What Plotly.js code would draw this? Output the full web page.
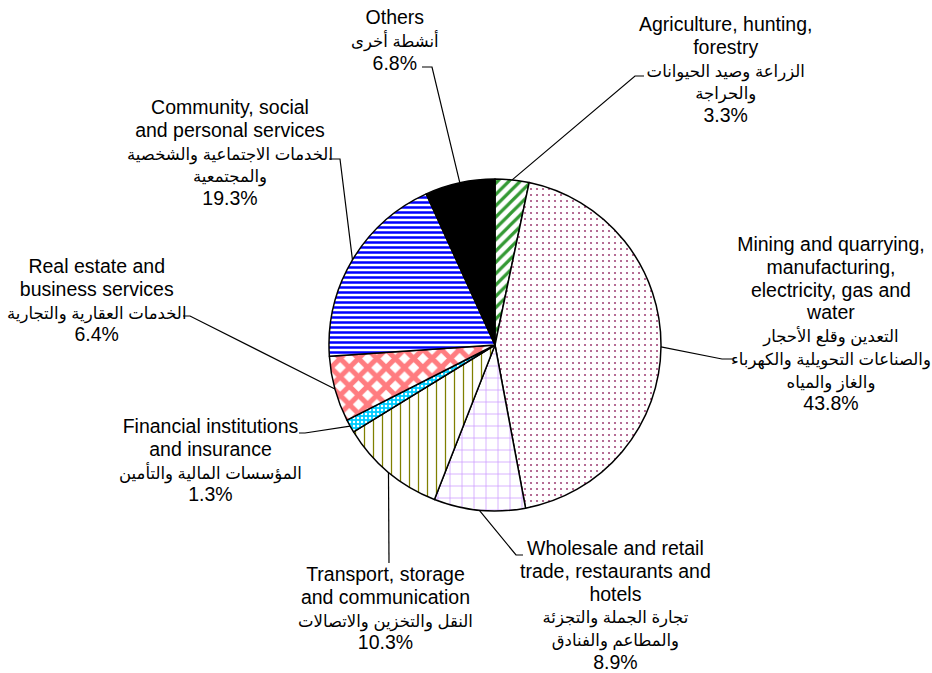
<!DOCTYPE html>
<html>
<head>
<meta charset="utf-8">
<script src="https://cdn.plot.ly/plotly-3.0.1.min.js"></script>
<style>
  html, body { margin: 0; padding: 0; background: #fff; }
  #chart { width: 932px; height: 673px; }
</style>
</head>
<body>
<div id="chart"></div>
<script>
// sectors, clockwise from 12 o'clock
var sectorsEn = ['Agriculture, hunting,<br>forestry',
                 'Mining and quarrying,<br>manufacturing,<br>electricity, gas and<br>water',
                 'Wholesale and retail<br>trade, restaurants and<br>hotels',
                 'Transport, storage<br>and communication',
                 'Financial institutions<br>and insurance',
                 'Real estate and<br>business services',
                 'Community, social<br>and personal services',
                 'Others'];
var sectorsAr = ['الزراعة وصيد الحيوانات<br>والحراجة',
                 'التعدين وقلع الأحجار<br>والصناعات التحويلية والكهرباء<br>والغاز والمياه',
                 'تجارة الجملة والتجزئة<br>والمطاعم والفنادق',
                 'النقل والتخزين والاتصالات',
                 'المؤسسات المالية والتأمين',
                 'الخدمات العقارية والتجارية',
                 'الخدمات الاجتماعية والشخصية<br>والمجتمعية',
                 'أنشطة أخرى'];
var shares = [3.3, 43.8, 8.9, 10.3, 1.3, 6.4, 19.3, 6.8];

// look of each slice
var fillCol = ['#ffffff', '#ffffff', '#ffffff', '#ffffff', '#00ccff', '#ffffff', '#ffffff', '#000000'];
var patCol  = ['#339933', '#a3487a', '#cc99ff', '#808000', '#ffffff', '#ff7c80', '#0000ff', '#000000'];
var patShape = ['/', '.', '+', '|', '.', 'x', '-', ''];
var patSize  = [8, 6, 12, 9, 4, 13, 5, 8];
var patSolid = [0.4, 0.1, 0.12, 0.14, 0.3, 0.62, 0.5, 0.3];

// label placement (pixels): centre of text block, then elbow + end of leader
var W = 932, H = 673;
var cx = 495, cy = 345, R = 166;
var labX = [725, 831, 615, 385, 210, 97, 230, 395];
var labY = [70, 323, 605, 608, 460, 300, 153, 40];
var bend = [[635,76],[722,359],[516,555],[389,563],[305,433],[190,316],[340,159],[432,67]];
var tail = [[644,76],[733,359],[523,555],[389,563],[299,433],[183,316],[329,159],[422,67]];

var FONT = 'Arial, "Liberation Sans", "DejaVu Sans", sans-serif';

function lines(txt, size) {
  return txt.split('<br>').map(function (s) {
    return '<span style="font-size:' + size + 'px">' + s + '</span>';
  }).join('<br>');
}

var data = [{
  type: 'pie',
  values: shares,
  labels: sectorsEn,
  sort: false,
  direction: 'clockwise',
  rotation: 0,
  textinfo: 'none',
  textposition: 'none',
  hoverinfo: 'skip',
  showlegend: false,
  domain: {x: [(cx - R) / W, (cx + R) / W], y: [(H - cy - R) / H, (H - cy + R) / H]},
  marker: {
    colors: fillCol,
    line: {color: '#000', width: 1.5},
    pattern: {shape: patShape, fgcolor: patCol, bgcolor: fillCol, size: patSize, solidity: patSolid}
  }
}];

var total = shares.reduce(function (a, b) { return a + b; }, 0);
var annotations = [], shapes = [], cum = 0;
function px(x) { return x / W; }
function py(y) { return 1 - y / H; }
for (var i = 0; i < shares.length; i++) {
  var a = 2 * Math.PI * (cum + shares[i] / 2) / total;
  cum += shares[i];
  var ex = cx + R * Math.sin(a), ey = cy - R * Math.cos(a);
  annotations.push({
    xref: 'paper', yref: 'paper', x: px(labX[i]), y: py(labY[i]),
    xanchor: 'center', yanchor: 'middle', align: 'center', showarrow: false,
    text: lines(sectorsEn[i], 19.5) + '<br>' + lines(sectorsAr[i], 16.5) + '<br>' +
          lines(shares[i].toFixed(1) + '%', 19.5),
    font: {family: FONT, size: 17.5, color: '#000'}
  });
  shapes.push({
    type: 'path', xref: 'paper', yref: 'paper',
    path: 'M' + px(ex) + ',' + py(ey) + ' L' + px(bend[i][0]) + ',' + py(bend[i][1]) +
          ' L' + px(tail[i][0]) + ',' + py(tail[i][1]),
    line: {color: '#000', width: 1.2}
  });
}

var layout = {
  width: W, height: H,
  margin: {l: 0, r: 0, t: 0, b: 0},
  paper_bgcolor: '#fff',
  font: {family: FONT},
  annotations: annotations,
  shapes: shapes
};

Plotly.newPlot('chart', data, layout, {displayModeBar: false, staticPlot: true});
</script>
</body>
</html>
